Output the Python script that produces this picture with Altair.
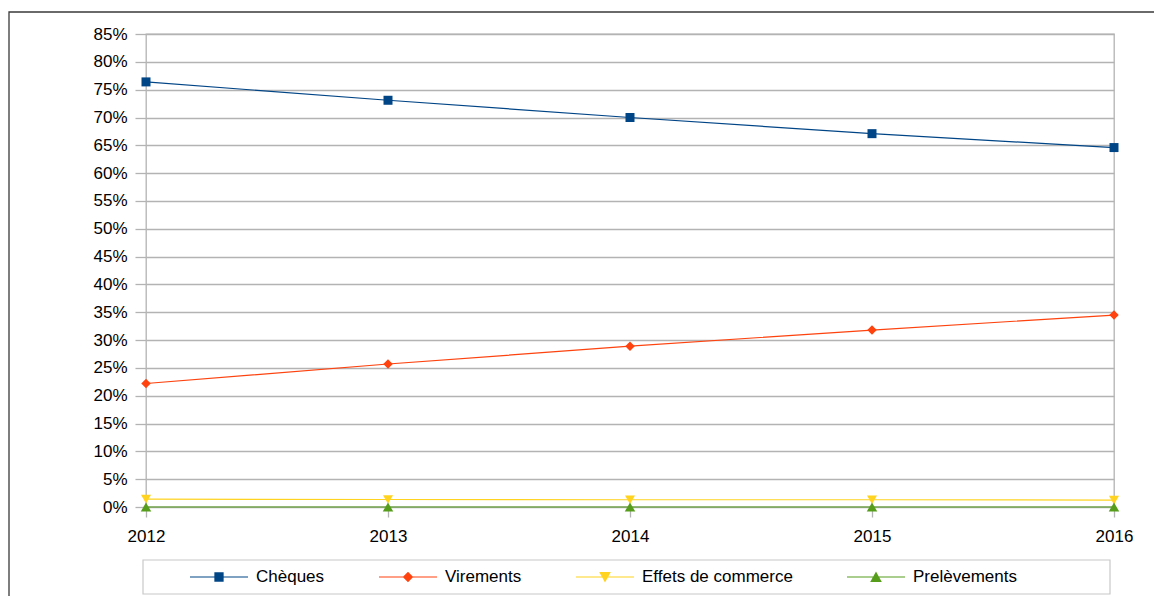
import altair as alt
import pandas as pd

years = [2012, 2013, 2014, 2015, 2016]
series = ["Chèques", "Virements", "Effets de commerce", "Prelèvements"]
cheques = [76.4, 73.1, 70.0, 67.1, 64.6]
virements = [22.2, 25.7, 28.9, 31.8, 34.5]
effets = [1.4, 1.35, 1.3, 1.3, 1.25]
prelevements = [0.0, 0.0, 0.0, 0.0, 0.0]
colors = ["#004586", "#ff420e", "#ffd320", "#579d1c"]
y_ticks = [0.0, 0.05, 0.10, 0.15, 0.20, 0.25, 0.30, 0.35, 0.40,
           0.45, 0.50, 0.55, 0.60, 0.65, 0.70, 0.75, 0.80, 0.85]

values = {"Chèques": cheques, "Virements": virements,
          "Effets de commerce": effets, "Prelèvements": prelevements}
rows = []
for s in series:
    for yr, v in zip(years, values[s]):
        rows.append({"annee": yr, "serie": s, "part": v / 100})
df = pd.DataFrame(rows)

FONT = "Liberation Sans"
GRID = "#b3b3b3"

# plot marker shapes and legend symbols (line + marker)
plot_shapes = ["square", "diamond", "triangle-down", "triangle-up"]
bar = "M-1,-0.02H1V0.02H-1Z "
legend_shapes = [
    bar + "M-0.16,-0.16H0.16V0.16H-0.16Z",
    bar + "M0,-0.18L0.18,0L0,0.18L-0.18,0Z",
    bar + "M-0.2,-0.17H0.2L0,0.19Z",
    bar + "M0,-0.19L0.2,0.17H-0.2Z",
]

x_enc = alt.X("annee:Q", scale=alt.Scale(domain=[2012, 2016], nice=False, zero=False),
              axis=alt.Axis(values=years, format="d", title=None, domain=False,
                            grid=False, tickColor=GRID, tickSize=10, tickWidth=1.3,
                            labelPadding=11, labelFont=FONT, labelFontSize=17,
                            labelColor="#000000", labelFlush=False, labelOverlap=False))
y_enc = alt.Y("part:Q", scale=alt.Scale(domain=[0, 0.8501], nice=False),
              axis=alt.Axis(values=y_ticks, format=".0%", title=None, domain=False,
                            grid=True, gridColor=GRID, gridWidth=1.3, tickColor=GRID,
                            tickSize=11, tickWidth=1.3,
                            labelPadding=8, labelFont=FONT, labelFontSize=17,
                            labelColor="#000000", labelFlush=False, labelOverlap=False))

base = alt.Chart(df)

frame = alt.Chart(alt.Data(values=[{}])).mark_rect(
    fillOpacity=0, stroke="#3a3a3a", strokeWidth=1.3
).encode(x=alt.value(-137), x2=alt.value(1300), y=alt.value(-22), y2=alt.value(900))

legend_box = alt.Chart(alt.Data(values=[{}])).mark_rect(
    fillOpacity=0, stroke="#c8c8c8", strokeWidth=1.2
).encode(x=alt.value(-3), x2=alt.value(964), y=alt.value(526), y2=alt.value(560))

lines = base.mark_line().encode(
    x=x_enc, y=y_enc,
    color=alt.Color("serie:N", scale=alt.Scale(domain=series, range=colors), legend=None),
    strokeWidth=alt.StrokeWidth("serie:N", scale=alt.Scale(domain=series, range=[1.2, 1.2, 1.4, 2.0]), legend=None),
    detail="serie:N",
)

points = base.mark_point(filled=True, opacity=1).encode(
    x=x_enc, y=y_enc,
    color=alt.Color("serie:N", scale=alt.Scale(domain=series, range=colors), legend=None),
    shape=alt.Shape("serie:N", scale=alt.Scale(domain=series, range=plot_shapes), legend=None),
    size=alt.Size("serie:N", scale=alt.Scale(domain=series, range=[81, 110, 150, 150]), legend=None),
)

leg = alt.Legend(
    title=None, orient="none", legendX=44, legendY=514, direction="horizontal",
    symbolSize=3364, symbolStrokeWidth=0, labelFont=FONT, labelFontSize=17,
    labelColor="#000000", labelOffset=8, columnPadding=54, padding=0, labelLimit=400,
)
legend_layer = base.transform_filter("false").mark_point(filled=True, opacity=1).encode(
    x=x_enc, y=y_enc,
    color=alt.Color("serie:N", scale=alt.Scale(domain=series, range=colors), legend=leg),
    shape=alt.Shape("serie:N", scale=alt.Scale(domain=series, range=legend_shapes), legend=leg),
)

chart = alt.layer(frame, legend_box, lines, points, legend_layer).resolve_scale(
    color="independent", shape="independent"
).properties(
    width=968, height=473,
    autosize=alt.AutoSizeParams(type="none"),
    padding={"left": 138, "top": 26, "right": 40, "bottom": 89},
).configure_view(stroke=GRID, strokeWidth=1.3)

chart.save("out.html", embed_options={"renderer": "svg", "actions": False})
